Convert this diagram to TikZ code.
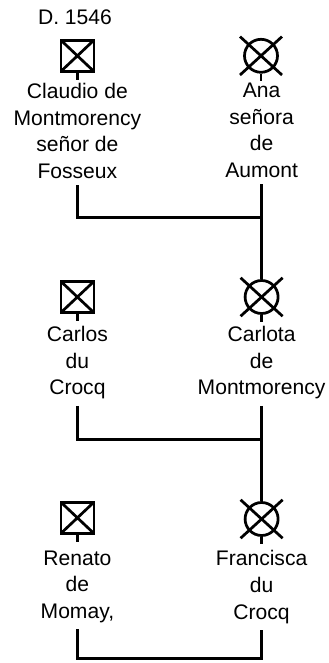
\documentclass[tikz,border=0pt]{standalone}
\usepackage{fontspec}
\setmainfont{Liberation Sans}
\usepackage{tikz}

\tikzset{
  linea/.style={line width=1.3pt},
  varon/.style={draw, linea, minimum width=0.55cm, minimum height=0.52cm, inner sep=0pt,
    path picture={\draw[linea] (path picture bounding box.south west) -- (path picture bounding box.north east)
      (path picture bounding box.north west) -- (path picture bounding box.south east);}},
  mujer/.style={circle, draw, linea, minimum size=0.55cm, inner sep=0pt},
  nombre/.style={anchor=north, align=center, inner sep=0pt, font=\fontsize{10}{12.6}\selectfont},
}

\begin{document}
\begin{tikzpicture}
      \useasboundingbox (0,0) rectangle (5.47,-11.05);
      % Primera generacion
      \node[nombre, anchor=center] (fecha) at (1.25,-0.28) {D. 1546};
      \node[varon] (m1) at (1.29,-0.93) {};
      \node[mujer] (f1) at (4.35,-0.93) {};
      \node[nombre] (n1) at (1.29,-1.38) {Claudio de\\Montmorency\\señor de\\Fosseux};
      \node[nombre] (n2) at (4.36,-1.38) {Ana\\señora\\de\\Aumont};
      % Segunda generacion
      \node[varon] (m2) at (1.29,-4.95) {};
      \node[mujer] (f2) at (4.36,-4.95) {};
      \node[nombre] (n3) at (1.29,-5.43) {Carlos\\du\\Crocq};
      \node[nombre] (n4) at (4.36,-5.43) {Carlota\\de\\Montmorency};
      % Tercera generacion
      \node[varon] (m3) at (1.29,-8.63) {};
      \node[mujer] (f3) at (4.36,-8.65) {};
      \node[nombre] (n5) at (1.29,-9.17) {Renato\\de\\Momay,};
      \node[nombre] (n6) at (4.36,-9.17) {Francisca\\du\\Crocq};
      % Cruces y trazos
      \foreach \nodo in {f1,f2,f3}
        \draw[linea] ([shift={(-0.35,0.32)}]\nodo.center) -- ([shift={(0.35,-0.32)}]\nodo.center)
          ([shift={(-0.35,-0.32)}]\nodo.center) -- ([shift={(0.35,0.32)}]\nodo.center);
      \foreach \nodo in {m1,m2,m3,f1,f2,f3}
        \draw[linea] (\nodo.south) -- ++(0,-0.12);
      % Matrimonios y descendencia
      \coordinate (u1) at (4.36,-3.63);
      \coordinate (u2) at (4.36,-7.32);
      \coordinate (u3) at (4.36,-10.98);
      \draw[linea] ([yshift=-3pt]n1.south) |- (u1);
      \draw[linea] ([yshift=-3pt]n2.south) -- (f2);
      \draw[linea] ([yshift=-3pt]n3.south) |- (u2);
      \draw[linea] ([yshift=-3pt]n4.south) -- (f3);
      \draw[linea] ([yshift=-3pt]n5.south) |- (u3) -- ([yshift=-3pt]n6.south);
\end{tikzpicture}
\end{document}
